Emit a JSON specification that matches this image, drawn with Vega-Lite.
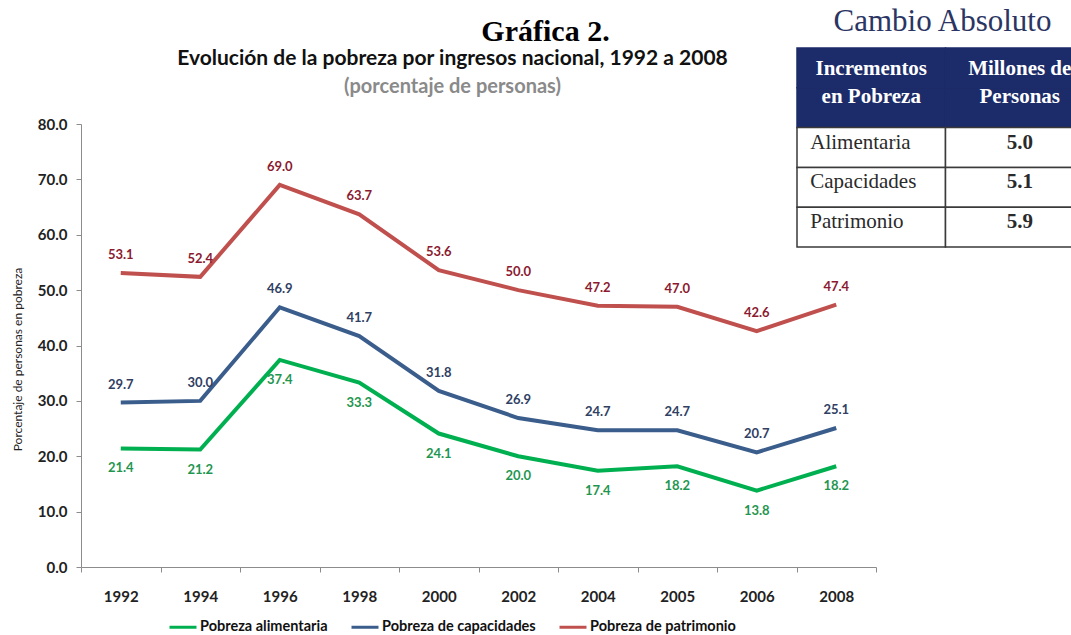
{
  "$schema": "https://vega.github.io/schema/vega-lite/v6.json",
  "width": 795,
  "height": 443,
  "autosize": {"type": "none"},
  "padding": {"left": 81, "top": 124, "right": 195, "bottom": 68},
  "background": "white",
  "title": {
    "text": "Evolución de la pobreza por ingresos nacional, 1992 a 2008",
    "subtitle": "(porcentaje de personas)",
    "anchor": "middle",
    "dx": -26,
    "dy": 92,
    "font": "Lato",
    "fontSize": 21,
    "fontWeight": "bold",
    "color": "#111111",
    "subtitleFont": "Lato",
    "subtitleFontSize": 20,
    "subtitleFontWeight": "bold",
    "subtitleColor": "#8a8a8a",
    "subtitlePadding": 8,
    "offset": 0
  },
  "datasets": {
    "pobreza": [
      {"anio": "1992", "serie": "Pobreza alimentaria", "valor": 21.4},
      {"anio": "1994", "serie": "Pobreza alimentaria", "valor": 21.2},
      {"anio": "1996", "serie": "Pobreza alimentaria", "valor": 37.4},
      {"anio": "1998", "serie": "Pobreza alimentaria", "valor": 33.3},
      {"anio": "2000", "serie": "Pobreza alimentaria", "valor": 24.1},
      {"anio": "2002", "serie": "Pobreza alimentaria", "valor": 20.0},
      {"anio": "2004", "serie": "Pobreza alimentaria", "valor": 17.4},
      {"anio": "2005", "serie": "Pobreza alimentaria", "valor": 18.2},
      {"anio": "2006", "serie": "Pobreza alimentaria", "valor": 13.8},
      {"anio": "2008", "serie": "Pobreza alimentaria", "valor": 18.2},
      {"anio": "1992", "serie": "Pobreza de capacidades", "valor": 29.7},
      {"anio": "1994", "serie": "Pobreza de capacidades", "valor": 30.0},
      {"anio": "1996", "serie": "Pobreza de capacidades", "valor": 46.9},
      {"anio": "1998", "serie": "Pobreza de capacidades", "valor": 41.7},
      {"anio": "2000", "serie": "Pobreza de capacidades", "valor": 31.8},
      {"anio": "2002", "serie": "Pobreza de capacidades", "valor": 26.9},
      {"anio": "2004", "serie": "Pobreza de capacidades", "valor": 24.7},
      {"anio": "2005", "serie": "Pobreza de capacidades", "valor": 24.7},
      {"anio": "2006", "serie": "Pobreza de capacidades", "valor": 20.7},
      {"anio": "2008", "serie": "Pobreza de capacidades", "valor": 25.1},
      {"anio": "1992", "serie": "Pobreza de patrimonio", "valor": 53.1},
      {"anio": "1994", "serie": "Pobreza de patrimonio", "valor": 52.4},
      {"anio": "1996", "serie": "Pobreza de patrimonio", "valor": 69.0},
      {"anio": "1998", "serie": "Pobreza de patrimonio", "valor": 63.7},
      {"anio": "2000", "serie": "Pobreza de patrimonio", "valor": 53.6},
      {"anio": "2002", "serie": "Pobreza de patrimonio", "valor": 50.0},
      {"anio": "2004", "serie": "Pobreza de patrimonio", "valor": 47.2},
      {"anio": "2005", "serie": "Pobreza de patrimonio", "valor": 47.0},
      {"anio": "2006", "serie": "Pobreza de patrimonio", "valor": 42.6},
      {"anio": "2008", "serie": "Pobreza de patrimonio", "valor": 47.4}
    ],
    "tabla": [
      {"fila": "h1", "col": "a", "texto": "Incrementos", "tipo": "enc"},
      {"fila": "h1", "col": "b", "texto": "Millones de", "tipo": "enc"},
      {"fila": "h2", "col": "a", "texto": "en Pobreza", "tipo": "enc"},
      {"fila": "h2", "col": "b", "texto": "Personas", "tipo": "enc"},
      {"fila": "r1", "col": "a", "texto": "Alimentaria", "tipo": "cuerpo"},
      {"fila": "r1", "col": "b", "texto": "5.0", "tipo": "cuerpo"},
      {"fila": "r2", "col": "a", "texto": "Capacidades", "tipo": "cuerpo"},
      {"fila": "r2", "col": "b", "texto": "5.1", "tipo": "cuerpo"},
      {"fila": "r3", "col": "a", "texto": "Patrimonio", "tipo": "cuerpo"},
      {"fila": "r3", "col": "b", "texto": "5.9", "tipo": "cuerpo"}
    ]
  },
  "layer": [
    {
      "data": {"name": "pobreza"},
      "encoding": {
        "x": {
          "field": "anio",
          "type": "ordinal",
          "scale": {"type": "band", "paddingInner": 0, "paddingOuter": 0},
          "axis": {
            "title": null,
            "orient": "bottom",
            "tickBand": "extent",
            "tickSize": 5,
            "tickColor": "#8c8c8c",
            "domainColor": "#8c8c8c",
            "labelAngle": 0,
            "labelFont": "Lato",
            "labelFontSize": 15,
            "labelFontWeight": "bold",
            "labelColor": "#222222",
            "labelPadding": 17
          }
        },
        "y": {
          "field": "valor",
          "type": "quantitative",
          "scale": {"domain": [0, 80], "nice": false, "zero": true},
          "axis": {
            "title": "Porcentaje de personas en pobreza",
            "titleFont": "Lato",
            "titleFontSize": 12,
            "titleFontWeight": "normal",
            "titleColor": "#222222",
            "titleAngle": -90,
            "titleBaseline": "middle",
            "titleX": -64,
            "titleY": 235,
            "values": [0, 10, 20, 30, 40, 50, 60, 70, 80],
            "format": ".1f",
            "grid": false,
            "tickSize": 5,
            "tickColor": "#8c8c8c",
            "domainColor": "#8c8c8c",
            "labelFont": "Lato",
            "labelFontSize": 15,
            "labelFontWeight": "bold",
            "labelColor": "#222222",
            "labelPadding": 9
          }
        }
      },
      "layer": [
        {
          "mark": {"type": "line", "strokeWidth": 4},
          "encoding": {
            "color": {
              "field": "serie",
              "type": "nominal",
              "scale": {
                "domain": ["Pobreza alimentaria", "Pobreza de capacidades", "Pobreza de patrimonio"],
                "range": ["#00b050", "#3a5d8c", "#c0504d"]
              },
              "legend": {
                "orient": "none",
                "legendX": 87,
                "legendY": 488,
                "direction": "horizontal",
                "title": null,
                "symbolType": "stroke",
                "symbolSize": 729,
                "symbolStrokeWidth": 3,
                "labelFont": "Lato",
                "labelFontSize": 14.5,
                "labelFontWeight": "bold",
                "labelColor": "#111111",
                "labelOffset": 2,
                "columnPadding": 17
              }
            }
          }
        },
        {
          "transform": [{"filter": "datum.serie !== 'Pobreza alimentaria'"}],
          "mark": {"type": "text", "dy": -18, "font": "Lato", "fontSize": 13, "fontWeight": "bold"},
          "encoding": {
            "text": {"field": "valor", "type": "quantitative", "format": ".1f"},
            "color": {
              "condition": {"test": "datum.serie === 'Pobreza de patrimonio'", "value": "#8b1a30"},
              "value": "#2f4063"
            }
          }
        },
        {
          "transform": [{"filter": "datum.serie === 'Pobreza alimentaria'"}],
          "mark": {"type": "text", "dy": 20, "font": "Lato", "fontSize": 13, "fontWeight": "bold"},
          "encoding": {
            "text": {"field": "valor", "type": "quantitative", "format": ".1f"},
            "color": {"value": "#1f9650"}
          }
        }
      ]
    },
    {
      "data": {"name": "tabla"},
      "encoding": {
        "x": {
          "field": "col",
          "type": "nominal",
          "scale": {"type": "band", "domain": ["a", "b"], "range": [716, 1013], "paddingInner": 0, "paddingOuter": 0},
          "axis": {
            "orient": "top",
            "title": "Cambio Absoluto",
            "labels": false,
            "ticks": false,
            "domain": false,
            "grid": false,
            "titleX": 861,
            "titleY": -94,
            "titleAlign": "center",
            "titleBaseline": "alphabetic",
            "titleFont": "Liberation Serif",
            "titleFontSize": 31,
            "titleFontWeight": "normal",
            "titleColor": "#2b3563"
          }
        },
        "y": {
          "field": "fila",
          "type": "nominal",
          "scale": {"type": "band", "domain": ["h1", "h2", "r1", "r2", "r3"], "range": [-76, 123], "paddingInner": 0, "paddingOuter": 0},
          "axis": {
            "orient": "right",
            "title": "Gráfica 2.",
            "labels": false,
            "ticks": false,
            "domain": false,
            "grid": false,
            "titleAngle": 0,
            "titleX": -331,
            "titleY": -84,
            "titleAlign": "center",
            "titleBaseline": "alphabetic",
            "titleFont": "Liberation Serif",
            "titleFontSize": 30,
            "titleFontWeight": "bold",
            "titleColor": "#000000"
          }
        }
      },
      "layer": [
        {
          "mark": {"type": "rect", "strokeWidth": 1.5},
          "encoding": {
            "fill": {
              "condition": {"test": "datum.tipo === 'enc'", "value": "#1c2b69"},
              "value": "#ffffff"
            },
            "stroke": {
              "condition": {"test": "datum.tipo === 'enc'", "value": "#1c2b69"},
              "value": "#3a3a3a"
            }
          }
        },
        {
          "transform": [{"filter": "datum.fila === 'h1'"}],
          "mark": {"type": "text", "dy": 1, "font": "Liberation Serif", "fontSize": 21, "fontWeight": "bold", "color": "#ffffff"},
          "encoding": {"text": {"field": "texto"}}
        },
        {
          "transform": [{"filter": "datum.fila === 'h2'"}],
          "mark": {"type": "text", "dy": -11, "font": "Liberation Serif", "fontSize": 21, "fontWeight": "bold", "color": "#ffffff"},
          "encoding": {"text": {"field": "texto"}}
        },
        {
          "transform": [{"filter": "datum.tipo === 'cuerpo' && datum.col === 'a'"}],
          "mark": {"type": "text", "align": "left", "dx": -61, "dy": -5, "font": "Liberation Serif", "fontSize": 21, "color": "#2a2a2a"},
          "encoding": {"text": {"field": "texto"}}
        },
        {
          "transform": [{"filter": "datum.tipo === 'cuerpo' && datum.col === 'b'"}],
          "mark": {"type": "text", "dy": -5, "font": "Liberation Serif", "fontSize": 21, "fontWeight": "bold", "color": "#2a2a2a"},
          "encoding": {"text": {"field": "texto"}}
        }
      ]
    }
  ],
  "resolve": {
    "scale": {"x": "independent", "y": "independent"},
    "axis": {"x": "independent", "y": "independent"}
  },
  "config": {
    "view": {"stroke": null}
  }
}
